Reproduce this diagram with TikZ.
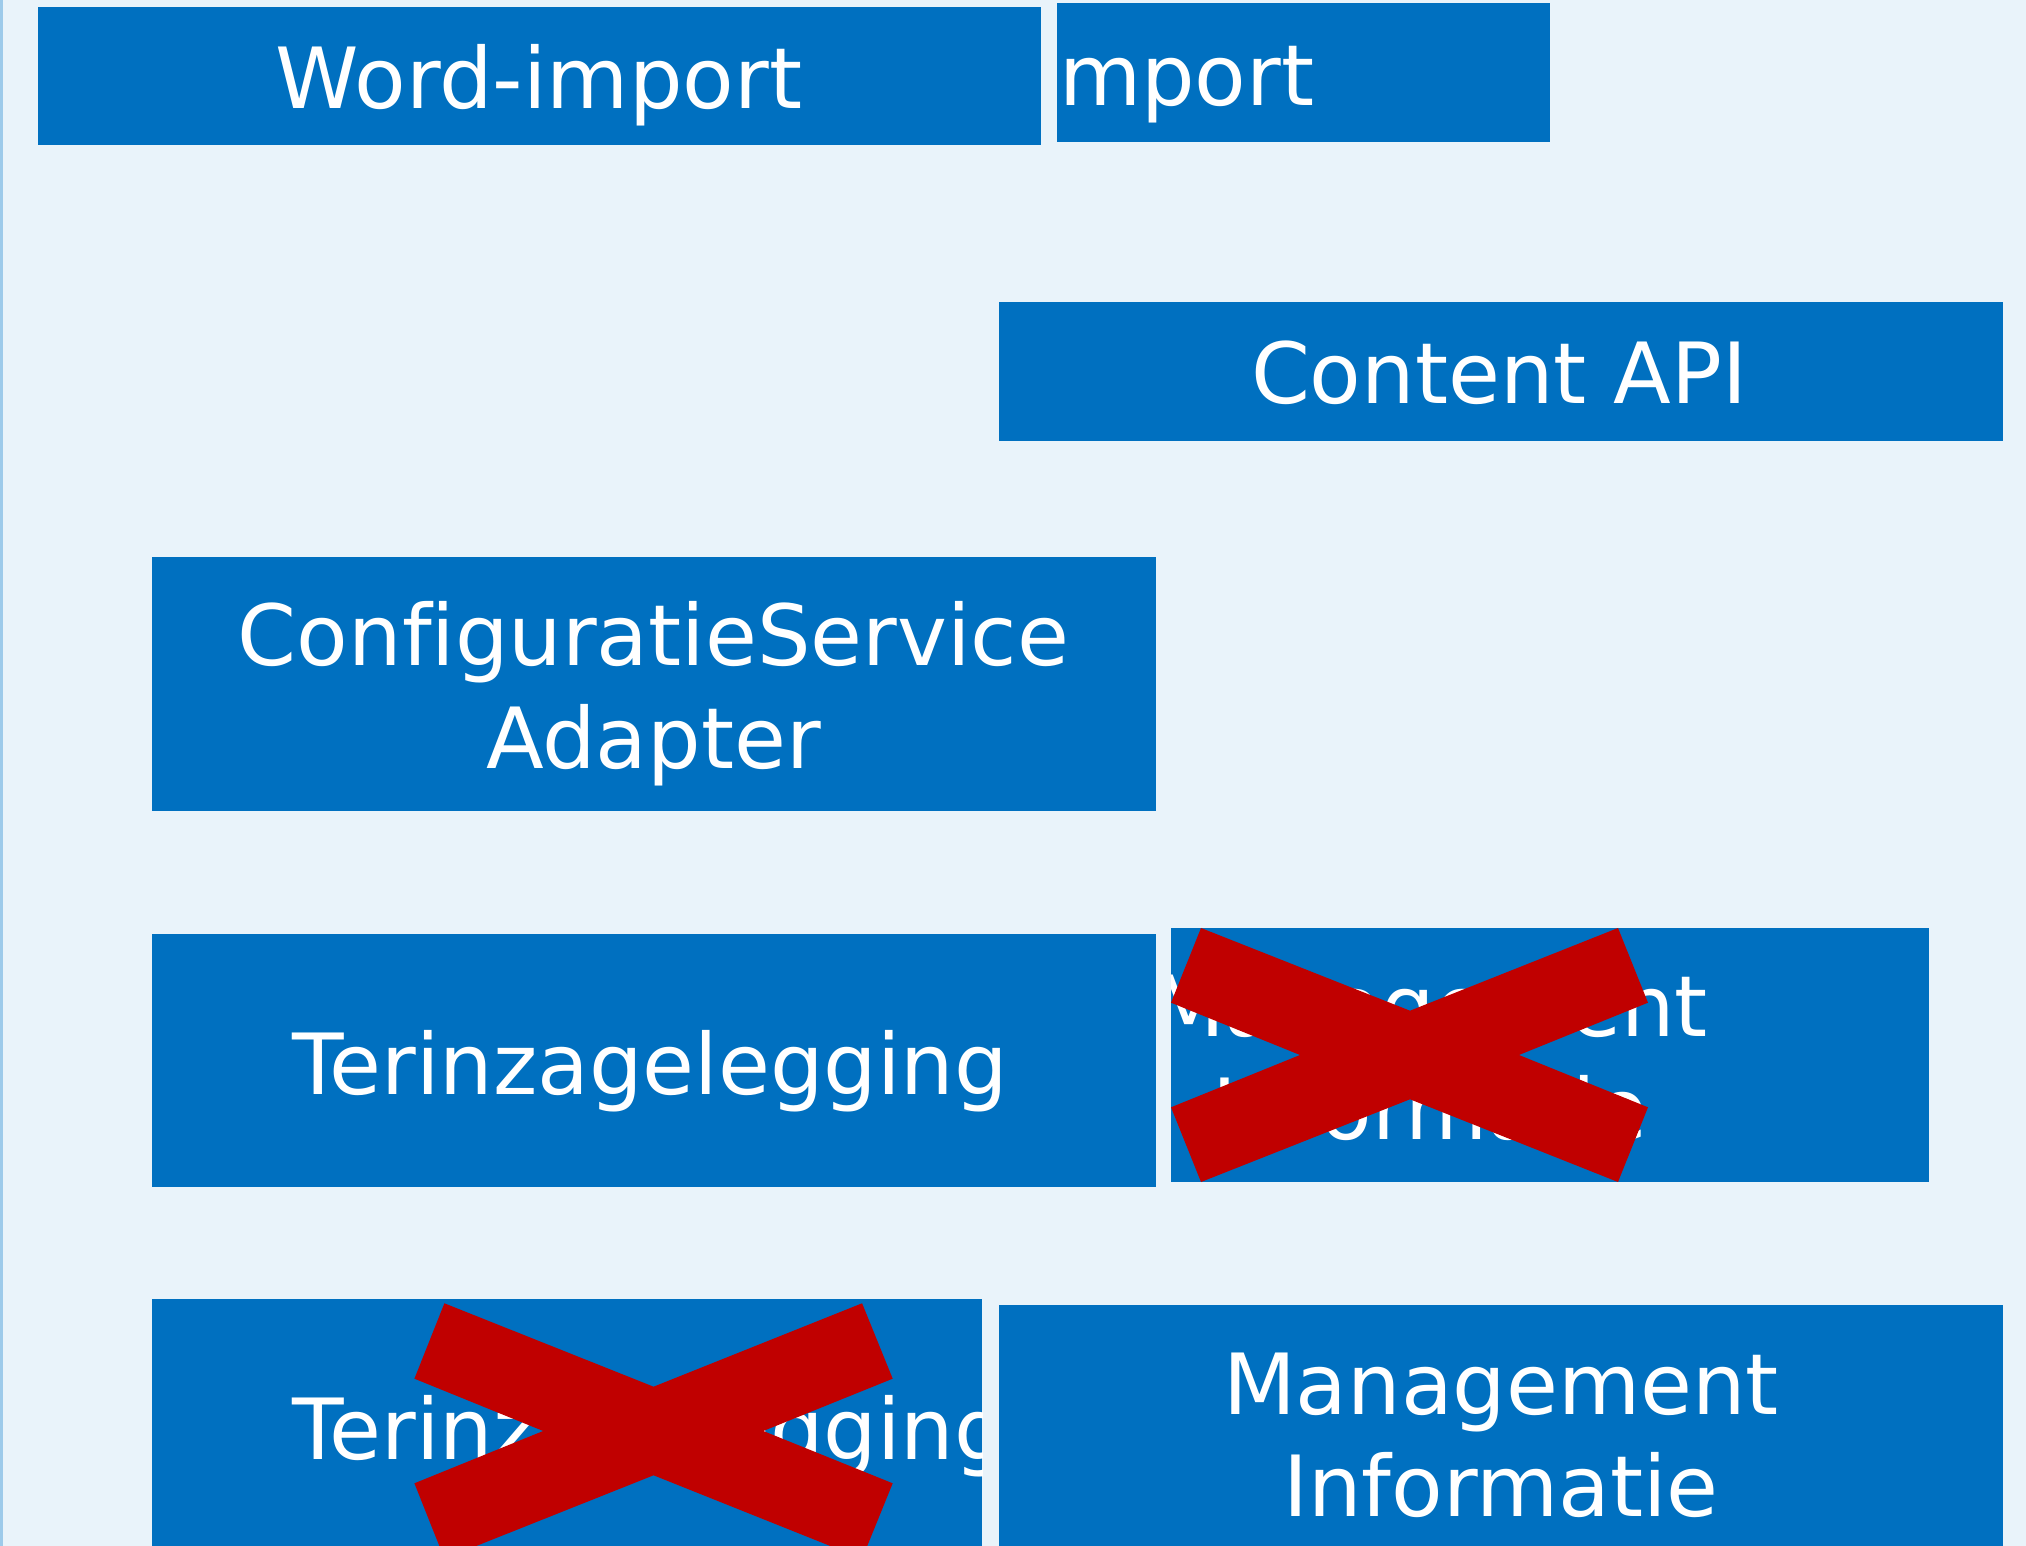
\documentclass[tikz,border=0pt]{standalone}
\usepackage{fontspec}
\setmainfont[Ligatures=NoCommon]{DejaVu Sans}
\definecolor{bgblue}{HTML}{E9F3FA}
\definecolor{edgeblue}{HTML}{9DCAEA}
\definecolor{boxblue}{HTML}{0070C0}
\definecolor{crossred}{HTML}{C00000}
\begin{document}
\begin{tikzpicture}[x=0.01cm,y=-0.01cm,
  box/.style={fill=boxblue, draw=none, inner sep=0pt, outer sep=0pt, anchor=north west},
  txt/.style={text=white, inner sep=0pt, outer sep=0pt, font=\fontsize{24}{29.2}\selectfont},
  cross/.style={fill=crossred, draw=none}]
\useasboundingbox (0,0) rectangle (2026,1546);
\clip (0,0) rectangle (2026,1546);
\fill[bgblue] (0,0) rectangle (2026,1546);
\fill[edgeblue] (0,0) rectangle (3,1546);
\renewcommand{\arraystretch}{1}

% boxes
\node[box, minimum width=10.025cm, minimum height=1.375cm] (wordimport) at (37.5,7) {};
\node[box, minimum width=4.935cm, minimum height=1.38cm] (mportbox) at (1056.5,3.5) {};
\node[box, minimum width=10.03cm, minimum height=1.385cm] (contentapi) at (999,302) {};
\node[box, minimum width=10.03cm, minimum height=2.54cm] (config) at (152,557) {};
\node[box, minimum width=10.03cm, minimum height=2.53cm] (terin1) at (152,934) {};
\node[box, minimum width=7.58cm, minimum height=2.535cm] (mgmtx) at (1171,928) {};
\node[box, minimum width=8.30cm, minimum height=2.53cm] (terin2) at (152,1299) {};
\node[box, minimum width=10.03cm, minimum height=2.53cm] (mgmt2) at (999,1305) {};

% texts
\node[txt, anchor=base] (twordimport) at (539,109) {Word-import};
\node[txt, anchor=base west] (tmport) at (1059,106) {mport};
\node[txt, anchor=base] (tcontentapi) at (1499,404) {Content API};
\node[txt, anchor=base] (tconfig) at (653.5,666) {\begin{tabular}[t]{@{}c@{}}ConfiguratieService\\Adapter\end{tabular}};
\node[txt, anchor=base] (tterin1) at (650,1094.3) {Terinzagelegging};
\begin{scope}
  \clip (mgmtx.north west) rectangle (mgmtx.south east);
  \node[txt, anchor=base] (tmgmtx) at (1430,1036.7) {\begin{tabular}[t]{@{}c@{}}Management\\Informatie\end{tabular}};
\end{scope}
\begin{scope}
  \clip (terin2.north west) rectangle (terin2.south east);
  \node[txt, anchor=base] (tterin2) at (650,1459) {Terinzagelegging};
\end{scope}
\node[txt, anchor=base] (tmgmt2) at (1501,1414) {\begin{tabular}[t]{@{}c@{}}Management\\Informatie\end{tabular}};

% crosses
\fill[cross] (1201,928) -- (1410,1010.7) -- (1618,928) -- (1648,1002.7) -- (1519,1055)
  -- (1648,1107.3) -- (1618,1182) -- (1410,1099.3) -- (1201,1182) -- (1171,1107.3)
  -- (1300,1055) -- (1171,1002.7) -- cycle;
\fill[cross] (444.4,1303.3) -- (653.6,1386.7) -- (862.1,1303.3) -- (892.7,1378.7) -- (763.3,1431)
  -- (892.7,1483.3) -- (862.1,1558.7) -- (653.6,1475.3) -- (444.4,1558.7) -- (414.4,1483.3)
  -- (543.2,1431) -- (414.4,1378.7) -- cycle;
\end{tikzpicture}
\end{document}
